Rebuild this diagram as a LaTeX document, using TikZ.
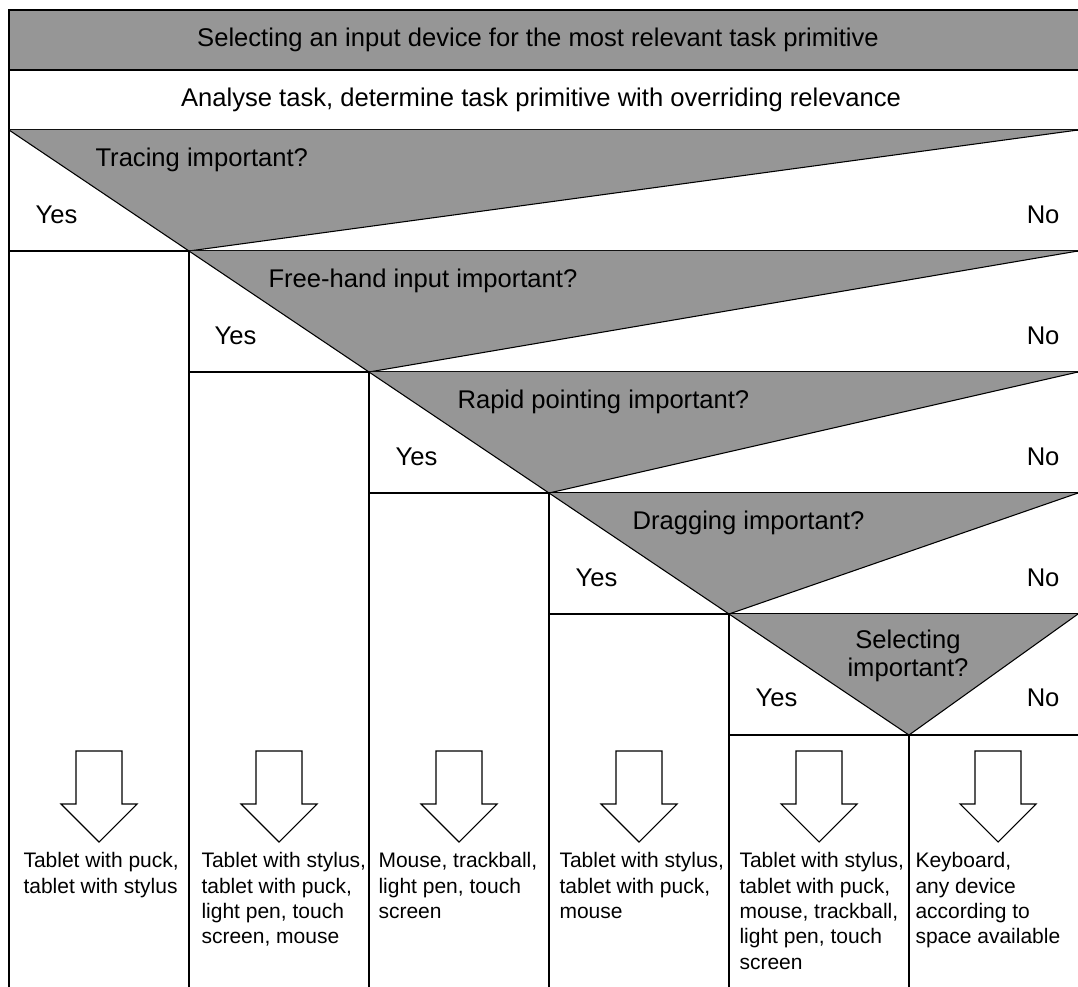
\documentclass[tikz,border=0pt]{standalone}
\usepackage{fontspec}
\setmainfont{Liberation Sans}
\definecolor{qgray}{RGB}{150,150,150}
\begin{document}
\begin{tikzpicture}[x=0.75pt,y=-0.75pt,line width=0.8pt,
  every node/.style={font=\fontsize{19.2}{21}\selectfont,inner sep=0pt},
  answer/.style={anchor=north west,align=left,font=\fontsize{15.75}{19}\selectfont}]
\useasboundingbox (0,0) rectangle (1078,987);
% header
\fill[qgray] (9,10) rectangle (1078,70);
\draw (9,987) -- (9,10) -- (1078,10);
\draw (9,70) -- (1078,70);
\draw (9,130) -- (1078,130);
\node (title) at (538,40) {Selecting an input device for the most relevant task primitive};
\node (analyse) at (541,100) {Analyse task, determine task primitive with overriding relevance};
% Tracing
\fill[qgray] (9,130) -- (1078,130) -- (189,251) -- cycle;
\draw (9,130) -- (189,251) -- (1078,130);
\draw (9,251) -- (1078,251);
\draw (189,251) -- (189,987);
\node[anchor=west] (q1) at (95,160) {Tracing important?};
\node[anchor=west] (yes1) at (35,215) {Yes};
\node[anchor=east] (no1) at (1060,215) {No};
% Free-hand input
\fill[qgray] (189,251) -- (1078,251) -- (369,372) -- cycle;
\draw (189,251) -- (369,372) -- (1078,251);
\draw (189,372) -- (1078,372);
\draw (369,372) -- (369,987);
\node[anchor=west] (q2) at (268,281) {Free-hand input important?};
\node[anchor=west] (yes2) at (214,336) {Yes};
\node[anchor=east] (no2) at (1060,336) {No};
% Rapid pointing
\fill[qgray] (369,372) -- (1078,372) -- (549,493) -- cycle;
\draw (369,372) -- (549,493) -- (1078,372);
\draw (369,493) -- (1078,493);
\draw (549,493) -- (549,987);
\node[anchor=west] (q3) at (457,402) {Rapid pointing important?};
\node[anchor=west] (yes3) at (395,457) {Yes};
\node[anchor=east] (no3) at (1060,457) {No};
% Dragging
\fill[qgray] (549,493) -- (1078,493) -- (729,614) -- cycle;
\draw (549,493) -- (729,614) -- (1078,493);
\draw (549,614) -- (1078,614);
\draw (729,614) -- (729,987);
\node[anchor=west] (q4) at (632,523) {Dragging important?};
\node[anchor=west] (yes4) at (575,578) {Yes};
\node[anchor=east] (no4) at (1060,578) {No};
% Selecting
\fill[qgray] (729,614) -- (1078,614) -- (909,735) -- cycle;
\draw (729,614) -- (909,735) -- (1078,614);
\draw (729,735) -- (1078,735);
\draw (909,735) -- (909,987);
\node[align=center] (q5) at (908,656) {Selecting\\important?};
\node[anchor=west] (yes5) at (755,698) {Yes};
\node[anchor=east] (no5) at (1060,698) {No};
% hollow arrows
\foreach \c in {99,279,459,639,819,998}
  \draw[fill=white] (\c-23,751) -- (\c+23,751) -- (\c+23,804) -- (\c+38,804)
    -- (\c,842) -- (\c-38,804) -- (\c-23,804) -- cycle;
% devices
\node[answer] (out1) at (23,852) {Tablet with puck,\\tablet with stylus};
\node[answer] (out2) at (201,852) {Tablet with stylus,\\tablet with puck,\\light pen, touch\\screen, mouse};
\node[answer] (out3) at (378,852) {Mouse, trackball,\\light pen, touch\\screen};
\node[answer] (out4) at (559,852) {Tablet with stylus,\\tablet with puck,\\mouse};
\node[answer] (out5) at (739,852) {Tablet with stylus,\\tablet with puck,\\mouse, trackball,\\light pen, touch\\screen};
\node[answer] (out6) at (915,852) {Keyboard,\\any device\\according to\\space available};
\end{tikzpicture}
\end{document}
